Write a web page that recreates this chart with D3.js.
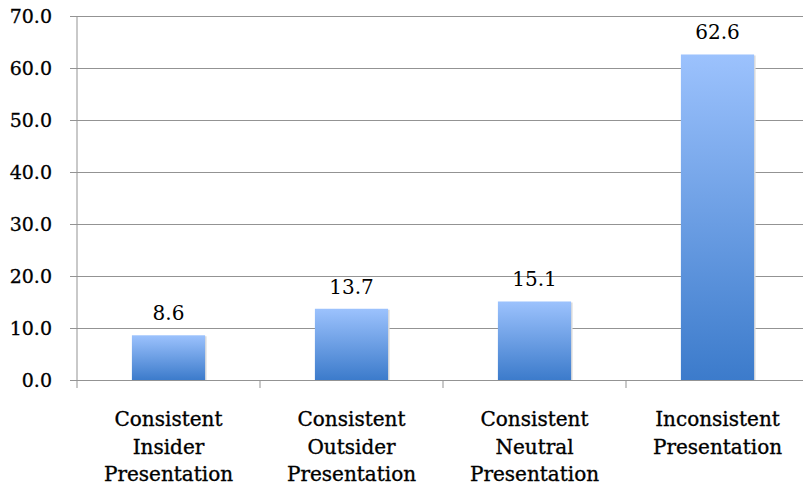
<!DOCTYPE html>
<html>
<head>
<meta charset="utf-8">
<script src="https://cdn.jsdelivr.net/npm/d3@7"></script>
<style>
  body { margin: 0; background: #fff; }
  text { font-family: "DejaVu Serif", serif; fill: #000; }
</style>
</head>
<body>
<div class="chart"></div>
<script>
// Data.
const categories = [
  ['Consistent', 'Insider', 'Presentation'],
  ['Consistent', 'Outsider', 'Presentation'],
  ['Consistent', 'Neutral', 'Presentation'],
  ['Inconsistent', 'Presentation']
];
const values = [8.6, 13.7, 15.1, 62.6];
const yTicks = [0, 10, 20, 30, 40, 50, 60, 70];

const barData = values.map((v, i) => ({ key: i, lines: categories[i], value: v }));

// Margin convention.
const margin = {top: 16, right: -6, bottom: 106, left: 77};
const width = 803 - margin.left - margin.right;
const height = 486 - margin.top - margin.bottom;

// Scales.
const xScale = d3.scaleBand()
  .domain(barData.map(d => d.key))
  .range([0, width])
  .padding(0);

const yScale = d3.scaleLinear()
  .domain([0, 70])
  .range([height, 0]);

const barWidth = xScale.bandwidth() * 0.4;

// Draw base.
const svg = d3.select('.chart')
  .append('svg')
  .attr('width', 803)
  .attr('height', 486)
  .append('g')
  .attr('transform', `translate(${margin.left}, ${margin.top})`);

const defs = svg.append('defs');
const grad = defs.append('linearGradient')
  .attr('id', 'barGrad')
  .attr('x1', 0).attr('y1', 0).attr('x2', 0).attr('y2', 1);
grad.append('stop').attr('offset', '0%').attr('stop-color', '#9cc2fd');
grad.append('stop').attr('offset', '100%').attr('stop-color', '#3c7bcb');

// Gridlines and y axis.
const yAxis = d3.axisLeft(yScale)
  .tickValues(yTicks)
  .tickFormat(d3.format('.1f'))
  .tickSizeInner(-width)
  .tickSizeOuter(0)
  .tickPadding(25);

const yAxisDraw = svg.append('g')
  .attr('class', 'y axis')
  .call(yAxis);

yAxisDraw.select('.domain').remove();
yAxisDraw.selectAll('line')
  .attr('x1', -7)
  .attr('stroke', '#939393');
yAxisDraw.selectAll('text')
  .attr('x', -25)
  .style('font-size', '19px')
  .style('font-family', '"DejaVu Serif", serif')
  .style('stroke', '#000')
  .style('stroke-width', '0.3px');

svg.append('line')
  .attr('x1', 0).attr('x2', 0)
  .attr('y1', 0).attr('y2', height + 8)
  .attr('stroke', '#939393');

// Category ticks.
const xAxis = d3.axisBottom(xScale).tickSize(0).tickFormat('');
const xAxisDraw = svg.append('g')
  .attr('class', 'x axis')
  .attr('transform', `translate(0, ${height})`)
  .call(xAxis);
xAxisDraw.select('.domain').remove();

xAxisDraw.selectAll('.sep')
  .data(barData.slice(1))
  .enter()
  .append('line')
  .attr('class', 'sep')
  .attr('x1', d => xScale(d.key))
  .attr('x2', d => xScale(d.key))
  .attr('y1', 0)
  .attr('y2', 8)
  .attr('stroke', '#939393');

// Draw bars.
svg.selectAll('.shadow')
  .data(barData)
  .enter()
  .append('rect')
  .attr('class', 'shadow')
  .attr('x', d => xScale(d.key) + xScale.bandwidth() / 2 - barWidth / 2 + 1.5)
  .attr('y', d => yScale(d.value) + 1)
  .attr('width', barWidth)
  .attr('height', d => height - yScale(d.value) - 1)
  .style('fill', '#dcdcdc');

svg.selectAll('.bar')
  .data(barData)
  .enter()
  .append('rect')
  .attr('class', 'bar')
  .attr('x', d => xScale(d.key) + xScale.bandwidth() / 2 - barWidth / 2)
  .attr('y', d => yScale(d.value))
  .attr('width', barWidth)
  .attr('height', d => height - yScale(d.value))
  .style('fill', 'url(#barGrad)');

// Value labels.
svg.selectAll('.value')
  .data(barData)
  .enter()
  .append('text')
  .attr('class', 'value')
  .attr('x', d => xScale(d.key) + xScale.bandwidth() / 2)
  .attr('y', d => yScale(d.value) - 15)
  .attr('text-anchor', 'middle')
  .style('font-size', '20px')
  .text(d => d.value.toFixed(1));

// Category labels.
const labels = svg.selectAll('.cat')
  .data(barData)
  .enter()
  .append('text')
  .attr('class', 'cat')
  .attr('x', d => xScale(d.key) + xScale.bandwidth() / 2)
  .attr('y', height + 46)
  .attr('text-anchor', 'middle')
  .style('font-size', '20px')
  .style('stroke', '#000')
  .style('stroke-width', '0.35px');

labels.selectAll('tspan')
  .data(d => d.lines.map((l, i) => ({ l, i, x: xScale(d.key) + xScale.bandwidth() / 2 })))
  .enter()
  .append('tspan')
  .attr('x', d => d.x)
  .attr('dy', d => d.i === 0 ? 0 : 27.5)
  .text(d => d.l);
</script>
</body>
</html>
